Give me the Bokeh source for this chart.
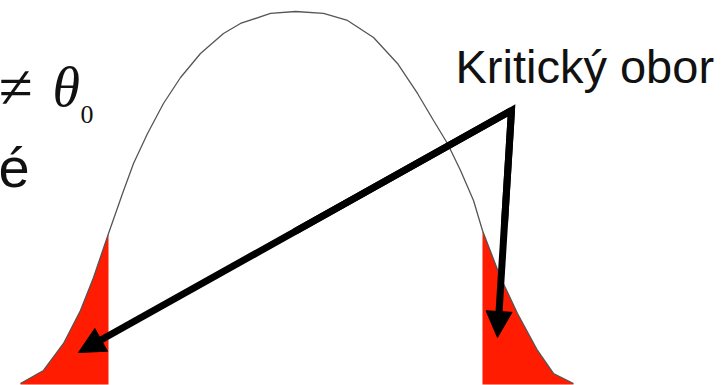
from bokeh.plotting import figure
from bokeh.models import Range1d, Arrow, NormalHead
from bokeh.core.properties import value
from bokeh.embed import file_html
from bokeh.resources import INLINE

# ---- data (standardised units z, density f) ----
z = [-2.883, -2.642, -2.432, -2.254, -2.117, -1.960, -1.813, -1.698, -1.551,
     -1.384, -1.205, -0.996, -0.755, -0.577, -0.262, 0.000,
     0.294, 0.545, 0.818, 1.069, 1.279, 1.447, 1.593, 1.730, 1.866,
     1.960, 2.149, 2.327, 2.537, 2.704, 2.914]
density = [0.0011, 0.0150, 0.0439, 0.0792, 0.1145, 0.1615, 0.2043, 0.2364, 0.2685,
           0.3006, 0.3284, 0.3541, 0.3755, 0.3862, 0.3969, 0.3990,
           0.3969, 0.3894, 0.3712, 0.3434, 0.3113, 0.2824, 0.2578, 0.2289, 0.1968,
           0.1647, 0.1145, 0.0760, 0.0364, 0.0118, 0.0011]
critical_value = 1.96

label_text = "Kritický obor"
label_z, label_f = 1.677, 0.3402
apex_z, apex_f = 2.264, 0.2931
target_z = [-2.275, 2.117]
target_f = [0.0342, 0.0503]

hyp_neq = "≠"
hyp_theta = "θ"
hyp_sub = "0"
hyp_word_end = "é"

W, H = 726, 385
x_start, x_end = -3.0922, 4.5178
y_start, y_end = -0.00107, 0.41076

p = figure(width=W, height=H, output_backend="svg", toolbar_location=None,
           x_range=Range1d(x_start, x_end), y_range=Range1d(y_start, y_end),
           min_border=0, background_fill_color="white", border_fill_color="white")
p.axis.visible = False
p.grid.visible = False
p.outline_line_color = None

# critical regions
lz = [a for a in z if a <= -critical_value]
lf = [b for a, b in zip(z, density) if a <= -critical_value]
rz = [a for a in z if a >= critical_value]
rf = [b for a, b in zip(z, density) if a >= critical_value]
p.varea(x=lz, y1=[0] * len(lz), y2=lf, fill_color="#ff1c00")
p.varea(x=rz, y1=[0] * len(rz), y2=rf, fill_color="#ff1c00")

# density curve
p.line(z, density, line_color="#555555", line_width=1.3)

# arrows
for tz, tf in zip(target_z, target_f):
    p.add_layout(Arrow(end=NormalHead(size=26, fill_color="black", line_color="black", line_width=1),
                       x_start=apex_z, y_start=apex_f, x_end=tz, y_end=tf,
                       line_width=7, line_color="black"))
mid_z = [(apex_z + t) / 2 for t in target_z]
mid_f = [(apex_f + t) / 2 for t in target_f]
p.line([mid_z[0], apex_z, mid_z[1]], [mid_f[0], apex_f, mid_f[1]],
       line_width=7, line_color="black", line_join="miter")

# label
p.text(x=[label_z], y=[label_f], text=[label_text], text_font=value("Liberation Sans"),
       text_font_size=value("47px"), text_baseline="alphabetic", text_align="left",
       text_color="#111111")

# cropped hypothesis text on the left
p.text(x=[-3.113], y=[0.3180], text=[hyp_neq], text_font=value("Liberation Serif"),
       text_font_size=value("62px"), text_baseline="alphabetic", text_align="left", text_color="#111111")
p.text(x=[-2.547], y=[0.3177], text=[hyp_theta], text_font=value("Liberation Serif"),
       text_font_style="italic", text_font_size=value("56px"), text_baseline="alphabetic",
       text_align="left", text_color="#111111")
p.text(x=[-2.254], y=[0.2890], text=[hyp_sub], text_font=value("Liberation Serif"),
       text_font_size=value("26px"), text_baseline="alphabetic", text_align="left", text_color="#111111")
p.text(x=[-3.113], y=[0.2321], text=[hyp_word_end], text_font=value("Liberation Sans"),
       text_font_size=value("56px"), text_baseline="alphabetic", text_align="left", text_color="#111111")

open("out.html", "w").write(file_html(p, INLINE))
